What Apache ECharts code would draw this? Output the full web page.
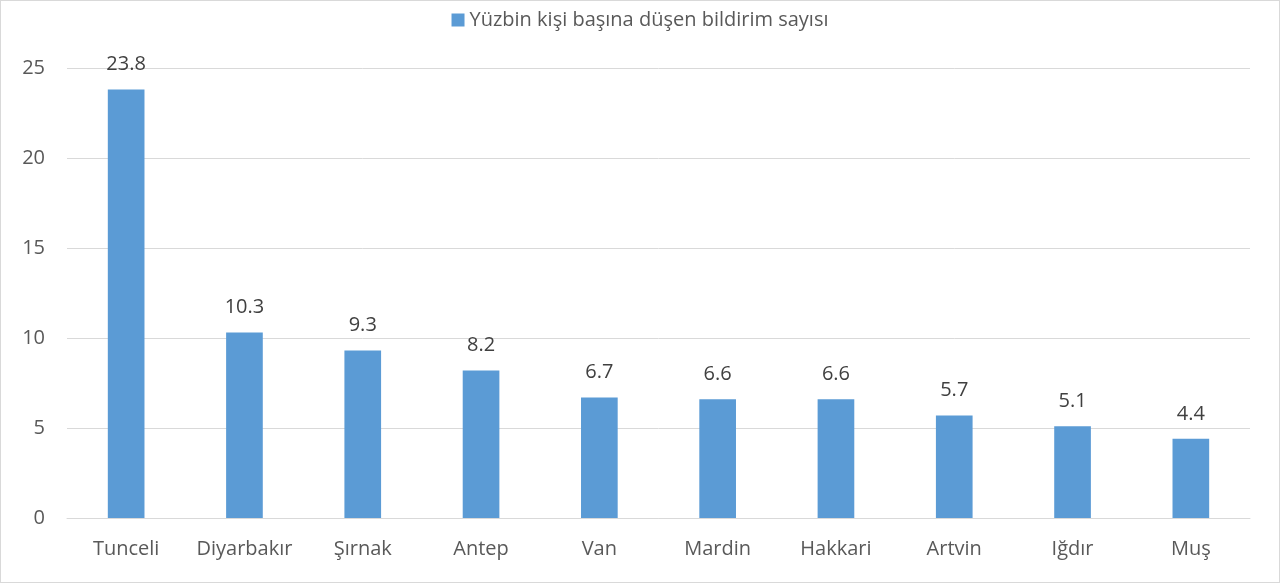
<!DOCTYPE html>
<html>
<head>
<meta charset="utf-8">
<script src="https://cdn.jsdelivr.net/npm/echarts@6/dist/echarts.min.js"></script>
<style>
  html, body { margin: 0; padding: 0; background: #fff; }
  #chart { width: 1280px; height: 583px; box-sizing: border-box; border: 1px solid #d9d9d9; }
</style>
</head>
<body>
<div id="chart"></div>
<script>
// data
const cities = ['Tunceli', 'Diyarbakır', 'Şırnak', 'Antep', 'Van', 'Mardin', 'Hakkari', 'Artvin', 'Iğdır', 'Muş']
const values = [23.8, 10.3, 9.3, 8.2, 6.7, 6.6, 6.6, 5.7, 5.1, 4.4]
const seriesName = 'Yüzbin kişi başına düşen bildirim sayısı'

const chart = echarts.init(document.getElementById('chart'))
const textColor = '#595959'
const font = '"Open Sans", sans-serif'

chart.setOption({
  animation: false,
  textStyle: { fontFamily: font },
  legend: {
    top: 4,
    left: 'center',
    icon: 'rect',
    itemWidth: 13,
    itemHeight: 13,
    itemGap: 4,
    textStyle: { color: textColor, fontSize: 20, fontFamily: font },
    data: [seriesName]
  },
  grid: { left: 66, right: 29, top: 67, bottom: 64 },
  xAxis: {
    type: 'category',
    data: cities,
    axisLine: { lineStyle: { color: '#d9d9d9' } },
    axisTick: { show: false },
    axisLabel: { interval: 0, color: textColor, fontSize: 20, margin: 21, fontFamily: font }
  },
  yAxis: {
    type: 'value',
    min: 0,
    max: 25,
    interval: 5,
    axisLine: { show: false },
    axisTick: { show: false },
    splitLine: { lineStyle: { color: '#d9d9d9', width: 1 } },
    axisLabel: { color: textColor, fontSize: 20, margin: 22, fontFamily: font }
  },
  series: [{
    name: seriesName,
    type: 'bar',
    data: values,
    barWidth: '31%',
    itemStyle: { color: '#5b9bd5' },
    label: {
      show: true,
      position: 'top',
      distance: 15,
      color: '#404040',
      fontSize: 20,
      fontFamily: font
    }
  }]
})
</script>
</body>
</html>
